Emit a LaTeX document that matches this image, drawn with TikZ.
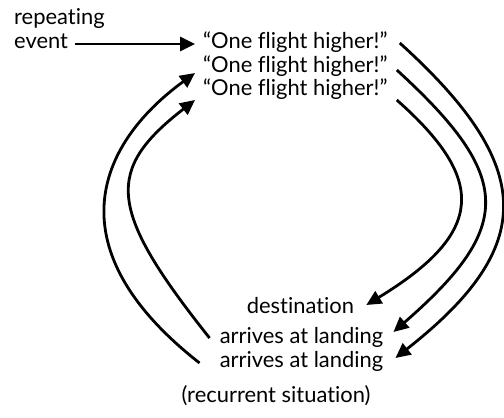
\documentclass[tikz,border=0pt]{standalone}
\usepackage{fontspec}
\setmainfont[Ligatures=NoCommon]{Lato}
\usepackage{tikz}
\usetikzlibrary{arrows.meta}
\tikzset{
	lbl/.style={inner sep=0pt, font=\fontsize{22}{26}\selectfont},
	flow/.style={line width=2.8bp, -{Triangle[length=15bp,width=14bp]}}
}

\begin{document}
\begin{tikzpicture}[x=1bp, y=1bp]
			%%%%% START %%%%%
			\useasboundingbox (0, 0) rectangle (504, 417);
			
			\node[lbl, anchor=base west] (rep) at (14, 392) {repeating};
			\node[lbl, anchor=base west] (ev) at (14, 369) {event};
			
			\node[lbl, anchor=base west] (h1) at (203, 369) {“One flight higher!”};
			\node[lbl, anchor=base west] (h2) at (203, 345) {“One flight higher!”};
			\node[lbl, anchor=base west] (h3) at (203, 322) {“One flight higher!”};
			
			\node[lbl, anchor=base] (dest) at (300.5, 104) {destination};
			\node[lbl, anchor=base] (a1) at (301.5, 74) {arrives at landing};
			\node[lbl, anchor=base] (a2) at (301.5, 50) {arrives at landing};
			\node[lbl, anchor=base] (rec) at (276, 15) {(recurrent situation)};
			
			\draw[flow] ([shift={(7,4)}]ev.base east) -- ([shift={(-8,4)}]h1.base west);
			
			% down the right side
			\draw[flow] ([shift={(12,5)}]h1.base east) .. controls (537, 250) and (537, 170) .. ([shift={(12,9)}]a2.base east);
			\draw[flow] ([shift={(9,2)}]h2.base east) .. controls (514, 240) and (514, 190) .. ([shift={(10,11)}]a1.base east);
			\draw[flow] ([shift={(9,-5)}]h3.base east) .. controls (486, 238) and (486, 185) .. ([shift={(12,8)}]dest.base east);
			
			% back up the left side
			\draw[flow] ([shift={(-20,4)}]a2.base west) .. controls (55, 167) and (95, 271) .. ([shift={(-8,-1)}]h2.base west);
			\draw[flow] ([shift={(-10,5)}]a1.base west) .. controls (107, 208) and (105, 247) .. ([shift={(-8,-5)}]h3.base west);
			
			%%%%% END %%%%%
		\end{tikzpicture}
\end{document}
